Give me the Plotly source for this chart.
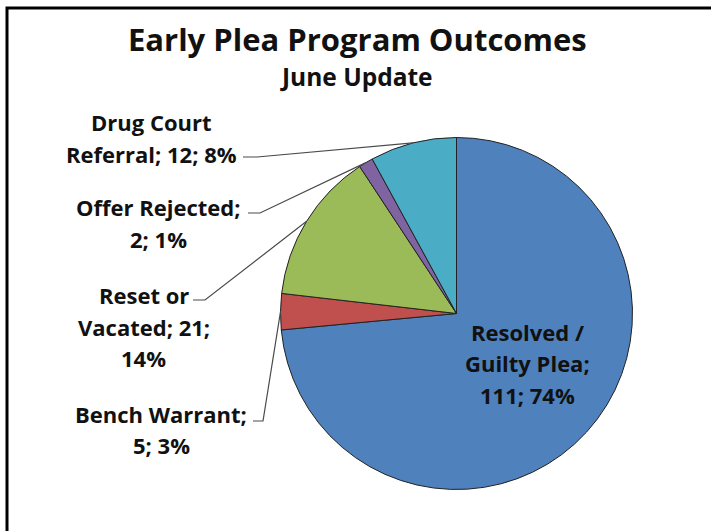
import math
import plotly.graph_objects as go

W, H = 711, 531

# ---- data ----
categories = ["Resolved / Guilty Plea", "Bench Warrant", "Reset or Vacated",
              "Offer Rejected", "Drug Court Referral"]
counts = [111, 5, 21, 2, 12]
colors = ["#4F81BD", "#C0504D", "#9BBB59", "#8064A2", "#4BACC6"]
label_lines = [
    ["Resolved /", "Guilty Plea;", "111; 74%"],
    ["Bench Warrant;", "5; 3%"],
    ["Reset or", "Vacated; 21;", "14%"],
    ["Offer Rejected;", "2; 1%"],
    ["Drug Court", "Referral; 12; 8%"],
]
title_text = "Early Plea Program Outcomes"
subtitle_text = "June Update"

# ---- layout geometry (pixels) ----
CX, CY, R = 456.5, 313.5, 176
# label block: (center x, first line center y), line spacing
label_pos = [(527, 330.5), (161, 412.5), (143.5, 294), (158, 206), (151, 121)]
LINE_GAP = 31.5
# leader line knee (left point, right point) for outside labels
leader_knee = [None, ((253, 421), (263, 421)), ((193, 300), (205, 300)),
               ((248, 213), (260, 213)), ((243, 157), (257, 157))]

FONT = "Open Sans"
LABEL_SIZE = 22


def px(x):
    return x / W


def py(y):
    return 1 - y / H


fig = go.Figure(go.Pie(
    labels=categories,
    values=counts,
    sort=False,
    direction="clockwise",
    rotation=0,
    marker=dict(colors=colors, line=dict(color="#222222", width=1)),
    textinfo="none",
    hoverinfo="label+value+percent",
    showlegend=False,
    domain=dict(x=[px(CX - R), px(CX + R)], y=[py(CY + R), py(CY - R)]),
))

annotations = []
shapes = []

# title
annotations.append(dict(x=px(357), y=py(39), xref="paper", yref="paper",
                        text="<b>" + title_text + "</b>", showarrow=False,
                        font=dict(family=FONT, size=31, color="#111111"),
                        xanchor="center", yanchor="middle"))
annotations.append(dict(x=px(356), y=py(77), xref="paper", yref="paper",
                        text="<b>" + subtitle_text + "</b>", showarrow=False,
                        font=dict(family=FONT, size=24.5, color="#111111"),
                        xanchor="center", yanchor="middle"))

# data labels
for lines, (lx, ly) in zip(label_lines, label_pos):
    for k, t in enumerate(lines):
        annotations.append(dict(x=px(lx), y=py(ly + k * LINE_GAP + 1),
                                xref="paper", yref="paper",
                                text="<b>" + t + "</b>", showarrow=False,
                                font=dict(family=FONT, size=LABEL_SIZE, color="#111111"),
                                xanchor="center", yanchor="middle"))

# leader lines from knee to slice mid-angle on the rim
total = sum(counts)
start = 0.0
for i, v in enumerate(counts):
    span = v / total * 360
    mid = math.radians(start + span / 2)
    start += span
    if leader_knee[i] is None:
        continue
    ex = CX + R * math.sin(mid)
    ey = CY - R * math.cos(mid)
    (ax, ay), (bx, by) = leader_knee[i]
    path = f"M {px(ax)},{py(ay)} L {px(bx)},{py(by)} L {px(ex)},{py(ey)}"
    shapes.append(dict(type="path", xref="paper", yref="paper", path=path,
                       line=dict(color="#4a4a4a", width=1.2)))

# outer frame: only top and left edges are visible in the picture
shapes.append(dict(type="path", xref="paper", yref="paper",
                   path=f"M {px(7)},-0.05 L {px(7)},{py(8)} L 1.05,{py(8)}",
                   line=dict(color="#000000", width=3)))

fig.update_layout(
    width=W, height=H,
    margin=dict(l=0, r=0, t=0, b=0),
    paper_bgcolor="white", plot_bgcolor="white",
    annotations=annotations, shapes=shapes,
    font=dict(family=FONT),
)

fig.write_html("out.html",
               config={"displayModeBar": False},
               post_script="document.body.style.margin='0';"
                           "document.body.style.overflow='hidden';")
